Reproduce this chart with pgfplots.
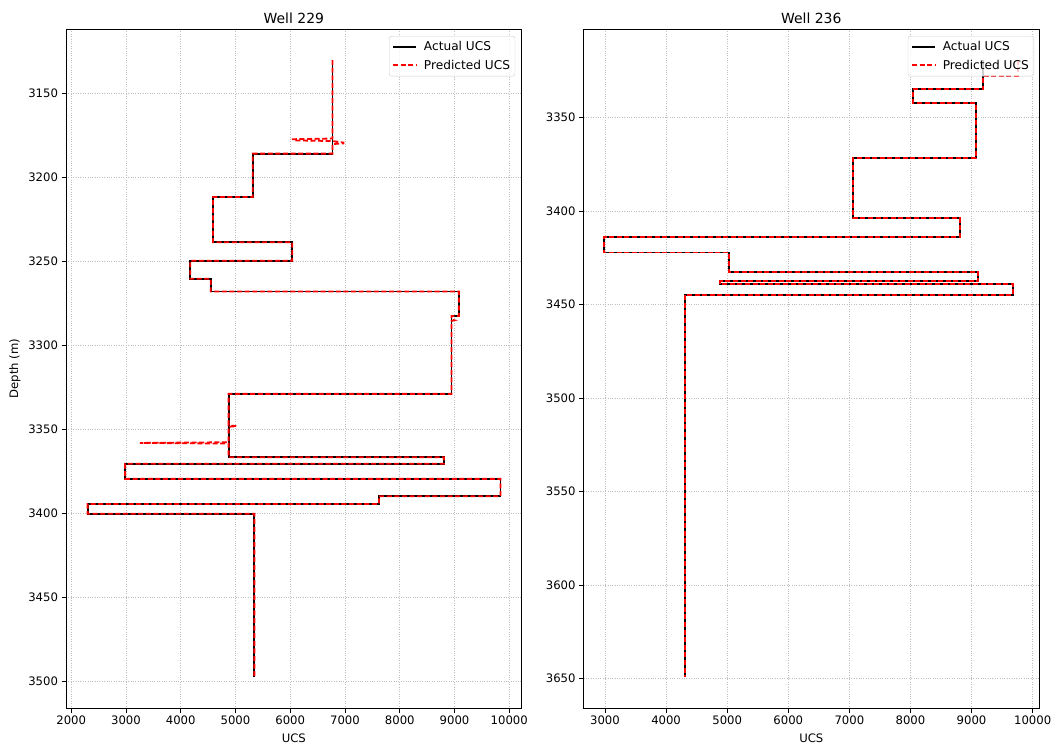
\documentclass[border=0pt]{standalone}
\usepackage{fontspec}
\setmainfont{DejaVu Sans}
\usepackage{pgfplots}
\pgfplotsset{compat=1.18}
\newcommand{\lgf}{\fontsize{12.2}{14}\selectfont}
\pgfplotsset{
  wellstyle/.style={
    scale only axis, height=679bp, y dir=reverse,
    axis line style={line width=0.9bp},
    tick align=outside, xtick pos=bottom, ytick pos=left,
    major tick length=4.5bp,
    every tick/.style={line width=0.9bp, black},
    grid=major, grid style={dotted, black!25, line width=0.7bp},
    scaled x ticks=false, scaled y ticks=false,
    ticklabel style={font=\fontsize{11.7}{14}\selectfont},
    /pgf/number format/assume math mode=true,
    /pgf/number format/1000 sep={},
    xlabel style={font=\fontsize{11.7}{14}\selectfont, at={(axis description cs:0.5,0)}, anchor=base, yshift=-34bp},
    ylabel style={font=\fontsize{11.7}{14}\selectfont},
    title style={font=\fontsize{14}{16}\selectfont, anchor=base, inner sep=0pt},
    legend cell align=left,
    legend style={draw=black!20, rounded corners=2.5bp, fill=white, fill opacity=0.8, text opacity=1,
      row sep=3.5bp, column sep=5bp, inner xsep=3bp, inner ysep=3.5bp},
    legend image post style={xscale=1.35},
  },
  wellactual/.style={color=black, line width=1.8bp},
  wellpred/.style={color=red, line width=1.8bp, dash pattern=on 5bp off 2.6bp},
}
\begin{document}
\begin{tikzpicture}
\path (0bp,0bp) rectangle (1057bp,749bp);
% ---------------- Well 229 ----------------
\begin{axis}[wellstyle,
  at={(66bp,41bp)}, anchor=south west, width=455.7bp,
  xmin=1905, xmax=10227, ymin=3111.6, ymax=3515.8,
  xtick={2000,3000,...,10000}, ytick={3150,3200,...,3500},
  title={Well 229}, xlabel={UCS}, ylabel={Depth (m)},
  ylabel style={at={(axis description cs:0,0.5)}, anchor=base, yshift=48bp},
  legend style={at={(1,1)}, anchor=north east, xshift=-6.5bp, yshift=-7bp},
]
\addplot[wellactual] coordinates {
(6770,3130.1) (6770,3185.8) (5315,3185.8) (5315,3211.6) (4588,3211.6) (4588,3238.5)
(6035,3238.5) (6035,3249.6) (4175,3249.6) (4175,3260.3) (4550,3260.3) (4550,3267.9)
(9080,3267.9) (9080,3282.5) (8946,3282.5) (8946,3328.8) (4875,3328.8) (4875,3366.5)
(8806,3366.5) (8806,3370.4) (2985,3370.4) (2985,3379.4) (9841,3379.4) (9841,3389.7)
(7620,3389.7) (7620,3394.3) (2300,3394.3) (2300,3400.2) (5345,3400.2) (5345,3497.5)
};
\addlegendentry{\lgf Actual UCS}
\addplot[wellpred] coordinates {
(6770,3130.1) (6770,3176.8) (6048,3177.2) (6048,3177.9) (6770,3178.3) (6970,3179.2) (6970,3179.7) (6770,3180.1)
(6770,3185.8) (5315,3185.8) (5315,3211.6) (4588,3211.6) (4588,3238.5)
(6035,3238.5) (6035,3249.6) (4175,3249.6) (4175,3260.3) (4550,3260.3) (4550,3267.9)
(9080,3267.9) (9080,3282.5) (8946,3282.5) (8946,3284.6) (8995,3285.0) (8946,3285.4)
(8946,3328.8) (4875,3328.8) (4875,3347.6) (5020,3348.0) (4875,3348.4)
(4875,3357.6) (3256,3358.0) (4875,3358.4) (4875,3366.5)
(8806,3366.5) (8806,3370.4) (2985,3370.4) (2985,3379.4) (9841,3379.4) (9841,3389.7)
(7620,3389.7) (7620,3394.3) (2300,3394.3) (2300,3400.2) (5345,3400.2) (5345,3497.5)
};
\addlegendentry{\lgf Predicted UCS}
\end{axis}
% ---------------- Well 236 ----------------
\begin{axis}[wellstyle,
  at={(583.6bp,41bp)}, anchor=south west, width=455.4bp,
  xmin=2650, xmax=10104, ymin=3302.7, ymax=3665.7,
  xtick={3000,4000,...,10000}, ytick={3350,3400,...,3650},
  title={Well 236}, xlabel={UCS},
  legend style={at={(1,1)}, anchor=north east, xshift=-5bp, yshift=-7bp},
]
\addplot[wellactual] coordinates {
(9192,3319.2) (9192,3334.8) (8046,3334.8) (8046,3342.3) (9072,3342.3) (9072,3371.8)
(7064,3371.8) (7064,3403.9) (8810,3403.9) (8810,3413.7) (2989,3413.7) (2989,3422.2)
(5035,3422.2) (5035,3432.6) (9110,3432.6) (9110,3437.6) (4882,3437.6) (4882,3439.0)
(9683,3439.0) (9683,3444.7) (4309,3444.7) (4309,3649.2)
};
\addlegendentry{\lgf Actual UCS}
\addplot[wellpred] coordinates {
(9765,3319.2) (9765,3327.7) (9192,3327.7) (9192,3334.8) (8046,3334.8) (8046,3342.3) (9072,3342.3) (9072,3371.8)
(7064,3371.8) (7064,3403.9) (8810,3403.9) (8810,3413.7) (2989,3413.7) (2989,3422.2)
(5035,3422.2) (5035,3432.6) (9110,3432.6) (9110,3437.6) (4882,3437.6) (4882,3439.0)
(9683,3439.0) (9683,3444.7) (4309,3444.7) (4309,3649.2)
};
\addlegendentry{\lgf Predicted UCS}
\end{axis}
\end{tikzpicture}
\end{document}
